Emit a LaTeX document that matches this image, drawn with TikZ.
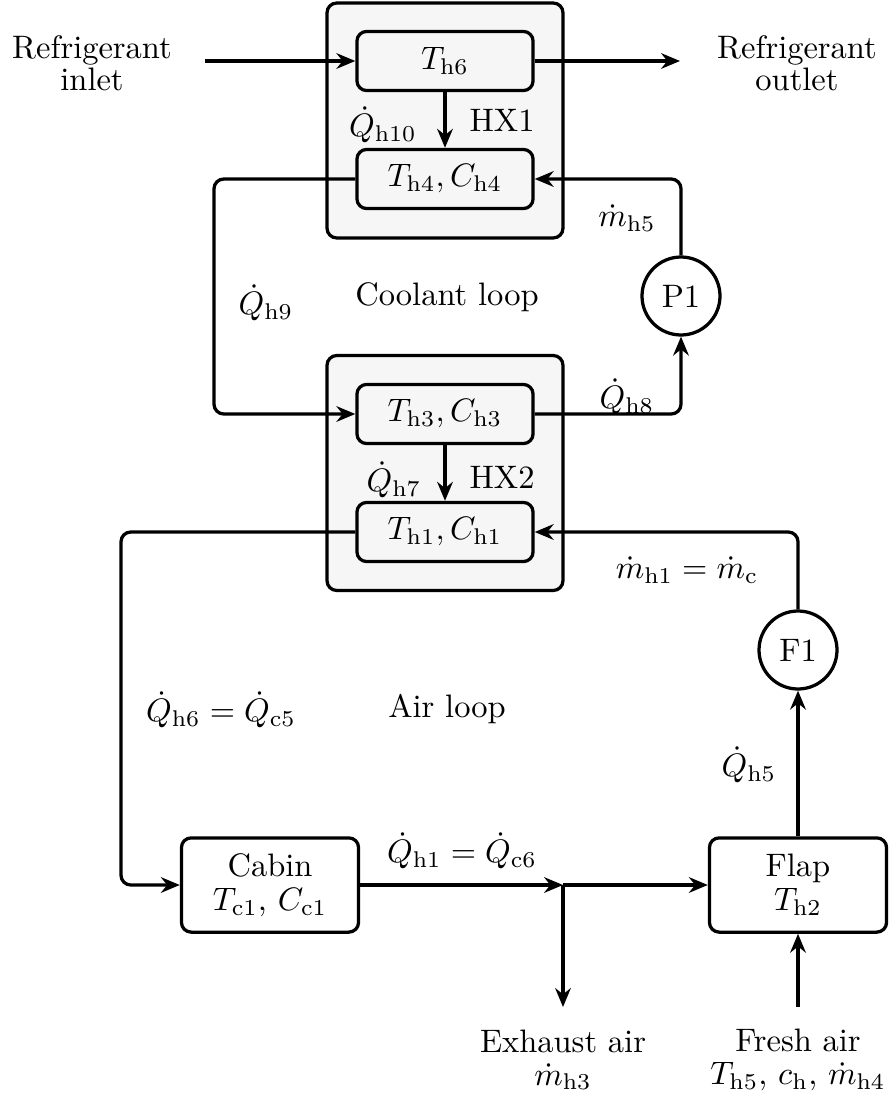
\documentclass[tikz,border=0pt]{standalone}
\usetikzlibrary{arrows.meta}

\begin{document}
\begin{tikzpicture}[x=0.3077pt,y=-0.3077pt,
>={Stealth[length=5.8pt,width=4.8pt]},
line width=1pt,
hx/.style={%
draw,
fill=gray!7,
rounded corners=3pt,
minimum width=72.6pt,
minimum height=72.3pt
},
cell/.style={%
draw,
fill=gray!7,
rounded corners=3pt,
minimum width=54.2pt,
minimum height=18.2pt
},
room/.style={%
draw,
fill=white,
rounded corners=3pt,
align=center,
minimum width=54.5pt,
minimum height=29pt
},
pump/.style={%
draw,
circle,
minimum size=24pt,
inner sep=0pt
},
flow/.style={%
->,
rounded corners=3pt
},
port/.style={%
align=center
},
]
\useasboundingbox(0,0)rectangle(892,1102);
%% HX1
\node[hx]at(445,120.5)(hxa){};
\node[cell]at(445,61)(th6){$T_{\mathrm{h6}}$};
\node[cell]at(445,179)(th4){$T_{\mathrm{h4}},C_{\mathrm{h4}}$};
\node at(383,125)(qh10){$\dot{Q}_{\mathrm{h10}}$};
\node at(502,120)(hxal){HX1};
%% HX2
\node[hx]at(445,473)(hxb){};
\node[cell]at(445,414)(th3){$T_{\mathrm{h3}},C_{\mathrm{h3}}$};
\node[cell]at(445,532)(th1){$T_{\mathrm{h1}},C_{\mathrm{h1}}$};
\node at(394,480)(qh7){$\dot{Q}_{\mathrm{h7}}$};
\node at(502,477)(hxbl){HX2};
%% refrigerant
\node[port]at(92,63)(rin){Refrigerant\\[-2pt]inlet};
\node[port]at(797,63)(rout){Refrigerant\\[-2pt]outlet};
\coordinate(rina)at(205,61);
\coordinate(routa)at(680,61);
\draw[->](rina)--(th6);
\draw[->](th6)--(routa);
\draw[->](th6)--(th4);
%% coolant loop
\node[pump]at(681,296)(pa){P1};
\coordinate(cl)at(214,296);
\draw[flow](th4.west)--(th4.west -| cl)--(th3.west -| cl)--(th3.west);
\draw[flow](th3.east)-|(pa.south);
\draw[flow](pa.north)|-(th4.east);
\draw[->](th3)--(th1);
\node at(627,218)(mh5){$\dot{m}_{\mathrm{h5}}$};
\node at(266,303)(qh9){$\dot{Q}_{\mathrm{h9}}$};
\node at(447,297)(cloop){Coolant loop};
\node at(627,397)(qh8){$\dot{Q}_{\mathrm{h8}}$};
%% air loop
\node[pump]at(798,650)(fa){F1};
\node[room]at(270,885)(cabin){Cabin\\[-1.5pt]$T_{\mathrm{c1}}$, $C_{\mathrm{c1}}$};
\node[room]at(798,885)(flap){Flap\\[-1.5pt]$T_{\mathrm{h2}}$};
\coordinate(al)at(121,885);
\coordinate(jn)at(563,885);
\coordinate(exh)at(563,1007);
\coordinate(frs)at(798,1007);
\draw[flow](th1.west)-|(al)--(cabin.west);
\draw[->](cabin)--(jn);
\draw[->](jn)--(flap);
\draw[->](jn)--(exh);
\draw[->](frs)--(flap);
\draw[->](flap)--(fa);
\draw[flow](fa.north)|-(th1.east);
\node at(687,570)(mh1){$\dot{m}_{\mathrm{h1}}=\dot{m}_{\mathrm{c}}$};
\node at(221,710)(qh6){$\dot{Q}_{\mathrm{h6}}=\dot{Q}_{\mathrm{c5}}$};
\node at(447,709)(aloop){Air loop};
\node at(749,765)(qh5){$\dot{Q}_{\mathrm{h5}}$};
\node at(462,851)(qh1){$\dot{Q}_{\mathrm{h1}}=\dot{Q}_{\mathrm{c6}}$};
\node[port]at(563,1060)(exht){Exhaust air\\[-2pt]$\dot{m}_{\mathrm{h3}}$};
\node[port]at(798,1060)(frst){Fresh air\\[-2pt]$T_{\mathrm{h5}}$, $c_{\mathrm{h}}$, $\dot{m}_{\mathrm{h4}}$};
\end{tikzpicture}
\end{document}
